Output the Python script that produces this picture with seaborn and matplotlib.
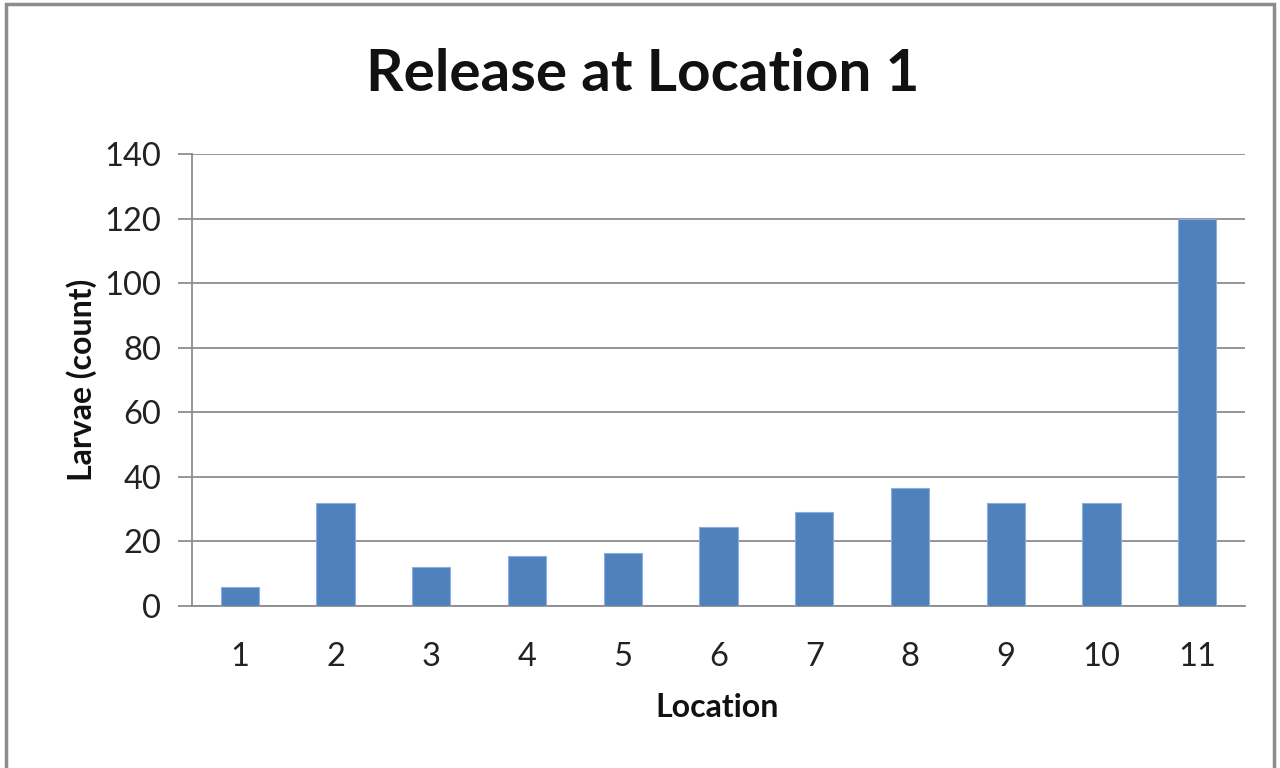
import matplotlib
matplotlib.use("Agg")
import matplotlib.pyplot as plt
import seaborn as sns
import pandas as pd
from matplotlib.patches import Rectangle

locations = ["1", "2", "3", "4", "5", "6", "7", "8", "9", "10", "11"]
larvae = [6, 32, 12, 15.5, 16.5, 24.5, 29, 36.5, 32, 32, 120]
yticks = [0, 20, 40, 60, 80, 100, 120, 140]

sns.set_theme(style="white")
plt.rcParams['font.family'] = ['Lato', 'DejaVu Sans']

df = pd.DataFrame({"Location": locations, "Larvae": larvae})

fig = plt.figure(figsize=(12.8, 7.68), dpi=100)
ax = fig.add_axes([0.15, 0.2109, 0.8227, 0.5886])

sns.barplot(data=df, x="Location", y="Larvae", order=locations, color="#4F81BD",
            width=0.4, saturation=1, edgecolor="#8BAEDC", linewidth=0.8, ax=ax, zorder=3)

ax.set_ylim(0, 140)
ax.set_xlim(-0.5, len(locations) - 0.5)
ax.set_yticks(yticks)
ax.set_yticklabels([str(t) for t in yticks])
ax.yaxis.grid(True, color="#8C8C8C", linewidth=1.3, zorder=0)
ax.xaxis.grid(False)
for s in ["top", "right"]:
    ax.spines[s].set_visible(False)
for s in ["left", "bottom"]:
    ax.spines[s].set_color("#8C8C8C")
    ax.spines[s].set_linewidth(1.3)

ax.tick_params(axis="y", which="both", left=True, length=10, width=1.3, color="#8C8C8C",
               labelsize=23.5, pad=12, labelcolor="#222222")
ax.tick_params(axis="x", bottom=False, labelsize=23.5, pad=20, labelcolor="#222222")

ax.set_xlabel("")
ax.set_ylabel("")
fig.text(0.502, 0.903, "Release at Location 1", ha="center", va="center",
         fontsize=42, fontweight="bold", color="#111111")
fig.text(0.0635, 0.505, "Larvae (count)", ha="center", va="center", rotation=90,
         fontsize=23, fontweight="bold", color="#111111")
fig.text(0.56, 0.079, "Location", ha="center", va="center",
         fontsize=23, fontweight="bold", color="#111111")

fig.patches.append(Rectangle((0.005, -0.01), 0.99, 1.005, transform=fig.transFigure,
                             fill=False, edgecolor="#8C8C8C", linewidth=2.5))

fig.savefig("out.png", dpi=100)
